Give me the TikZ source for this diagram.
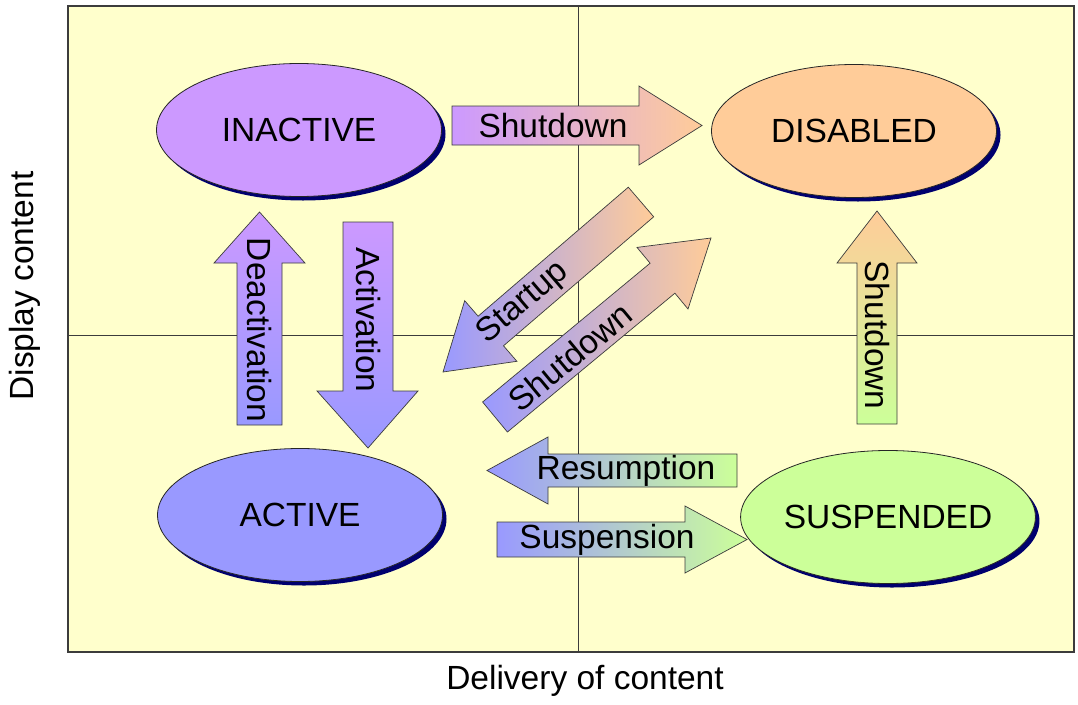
\documentclass[tikz,border=0pt]{standalone}
\usepackage{fontspec}
\setmainfont{Liberation Sans}
\usetikzlibrary{shapes.geometric,shadows}
\definecolor{bgyellow}{RGB}{255,255,204}
\definecolor{cpurple}{RGB}{204,153,255}
\definecolor{cblue}{RGB}{153,153,255}
\definecolor{cpeach}{RGB}{255,204,153}
\definecolor{cgreen}{RGB}{204,255,153}
\definecolor{shadowblue}{RGB}{0,0,110}
\definecolor{edgegray}{RGB}{60,60,60}
\begin{document}
\begin{tikzpicture}[x=1pt,y=-1pt,
  state/.style={ellipse, draw=black!85, line width=0.8pt, minimum width=285pt, minimum height=133pt, inner sep=0pt,
    font=\fontsize{33.5}{38}\selectfont,
    drop shadow={shadow xshift=4pt, shadow yshift=-4pt, fill=shadowblue, opacity=1}},
  blockarrow/.style={draw=edgegray, line width=0.7pt},
  lbl/.style={font=\fontsize{33.5}{38}\selectfont, inner sep=0pt},
  gridline/.style={draw=edgegray, line width=0.9pt}
]
\fill[white] (0,0) rectangle (1078,704);
\path[use as bounding box] (0,0) rectangle (1078,704);
% frame and quadrant lines
\draw[fill=bgyellow, draw=edgegray, line width=1.2pt] (68,6) rectangle (1074,652);
\draw[gridline] (578,6) -- (578,652);
\draw[gridline] (68,335) -- (1074,335);
% states
\node[state, fill=cpurple] (inactive) at (299,130) {INACTIVE};
\node[state, fill=cpeach] (disabled) at (854,131) {DISABLED};
\node[state, fill=cblue] (active) at (300,515) {ACTIVE};
\node[state, fill=cgreen] (suspended) at (888,517) {SUSPENDED};
% block arrows
\path[blockarrow, left color=cpurple, right color=cpeach]
  (452,106) -- (639,106) -- (639,86) -- (702,125.5) -- (639,165) -- (639,145) -- (452,145) -- cycle;
\node[lbl] (shutTop) at (553,125.5) {Shutdown};

\path[blockarrow, top color=cpurple, bottom color=cblue]
  (237,425) -- (237,263) -- (214,263) -- (259.5,212) -- (305,263) -- (282,263) -- (282,425) -- cycle;
\node[lbl, rotate=-90] (deact) at (259.5,330) {Deactivation};

\path[blockarrow, top color=cpurple, bottom color=cblue]
  (343,222) -- (393,222) -- (393,391) -- (418,391) -- (368,448) -- (317,391) -- (343,391) -- cycle;
\node[lbl, rotate=-90] (act) at (368,320) {Activation};

\path[blockarrow, left color=cblue, right color=cpeach]
  (628.3,187.2) -- (653.7,216.8) -- (503.5,345.8) -- (516.9,361.3) -- (443,372) -- (464.7,300.7) -- (478.1,316.2) -- cycle;
\node[lbl, rotate=40.6] (startup) at (523,303) {Startup};

\path[blockarrow, left color=cblue, right color=cpeach]
  (482.6,402.0) -- (507.4,432.0) -- (674.9,293.2) -- (688.0,309.0) -- (711,238) -- (637.0,247.4) -- (650.1,263.2) -- cycle;
\node[lbl, rotate=39.6] (shutDiag) at (570,357) {Shutdown};

\path[blockarrow, top color=cpeach, bottom color=cgreen]
  (857,424) -- (857,263) -- (837,263) -- (877,211) -- (917,263) -- (897,263) -- (897,424) -- cycle;
\node[lbl, rotate=-90] (shutRight) at (877,335) {Shutdown};

\path[blockarrow, left color=cblue, right color=cgreen]
  (737,454) -- (548,454) -- (548,437) -- (487,470.5) -- (548,504) -- (548,487) -- (737,487) -- cycle;
\node[lbl] (resume) at (626,471) {Resumption};

\path[blockarrow, left color=cblue, right color=cgreen]
  (497,522) -- (685,522) -- (685,506) -- (747,539.5) -- (685,573) -- (685,557) -- (497,557) -- cycle;
\node[lbl] (suspend) at (607,540) {Suspension};
% axis labels
\node[lbl] (xlabel) at (585,681) {Delivery of content};
\node[lbl, rotate=90] (ylabel) at (25,286) {Display content};
\end{tikzpicture}
\end{document}
